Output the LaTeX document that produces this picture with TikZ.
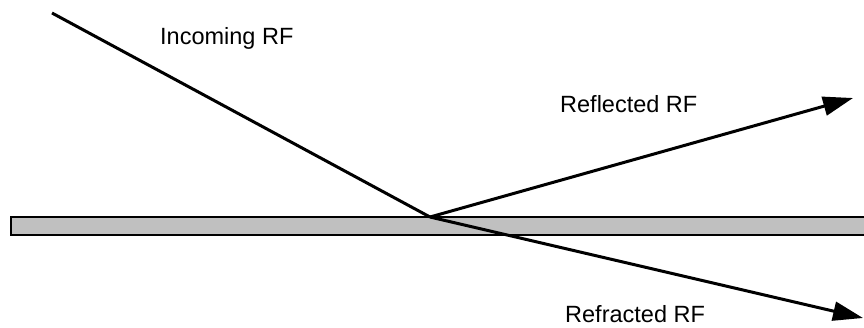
\documentclass[tikz,border=0pt]{standalone}
\usepackage{fontspec}
\setmainfont{Liberation Sans}
\usetikzlibrary{arrows.meta}
\begin{document}
\begin{tikzpicture}[x=1pt,y=-1pt,
  ray/.style={line width=3pt},
  rayarrow/.style={ray,-{Triangle[length=30pt,width=19pt]}},
  lbl/.style={anchor=base west,inner sep=0pt,font=\fontsize{23.5}{28}\selectfont},
  surface/.style={draw=black,line width=2pt,fill={rgb,255:red,192;green,192;blue,192}}]
\useasboundingbox (0,0) rectangle (864,327);
\clip (0,0) rectangle (864,327);
\fill[white] (0,0) rectangle (864,327);
\draw[surface] (11,217) rectangle (880,235);
\coordinate (A) at (52,13);
\coordinate (P) at (430,217);
\coordinate (R) at (853,98);
\coordinate (T) at (863,318);
\draw[ray] (A) -- (P);
\draw[rayarrow] (P) -- (R);
\draw[rayarrow] (P) -- (T);
\node[lbl] (inc) at (160,44) {Incoming RF};
\node[lbl] (refl) at (560,112) {Reflected RF};
\node[lbl] (refr) at (565,322) {Refracted RF};
\end{tikzpicture}
\end{document}
